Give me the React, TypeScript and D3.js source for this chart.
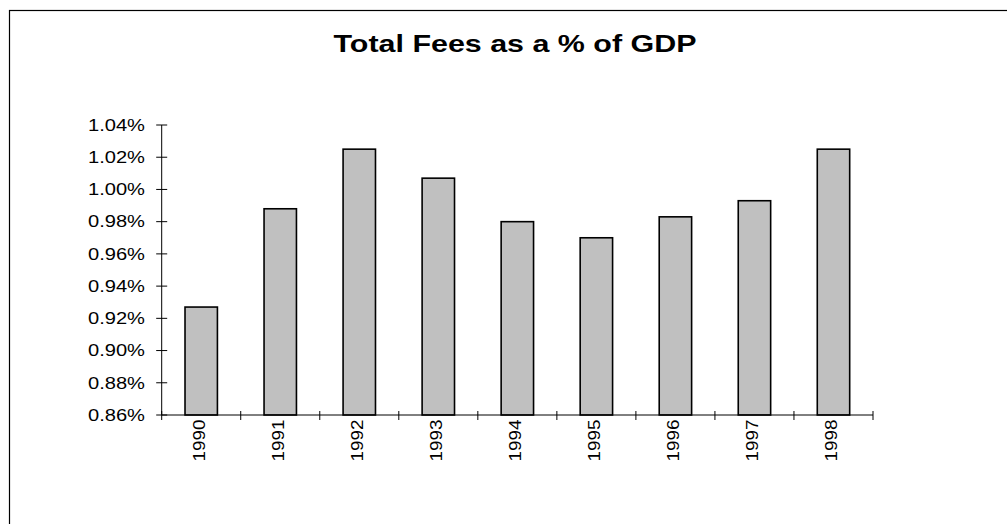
import React from "react";
import * as d3 from "d3";

const years = ["1990", "1991", "1992", "1993", "1994", "1995", "1996", "1997", "1998"];
const feesPct = [0.927, 0.988, 1.025, 1.007, 0.980, 0.970, 0.983, 0.993, 1.025];
const yTicks = [0.86, 0.88, 0.9, 0.92, 0.94, 0.96, 0.98, 1.0, 1.02, 1.04];
const title = "Total Fees as a % of GDP";

const W = 1007;
const H = 524;
const plotLeft = 161.7;
const plotRight = 873;
const plotTop = 125;
const plotBottom = 415;
const font = "'Liberation Sans', Arial, Helvetica, sans-serif";

export default function App() {
  const x = d3.scaleBand<string>().domain(years).range([plotLeft, plotRight]).paddingInner(0.59).paddingOuter(0.295);
  const band = d3.scaleBand<string>().domain(years).range([plotLeft, plotRight]).padding(0);
  const y = d3.scaleLinear().domain([0.86, 1.04]).range([plotBottom, plotTop]);
  const fmt = (v: number) => v.toFixed(2) + "%";
  const boundaries = years.map((yr) => band(yr) as number).concat([plotRight]);

  return (
    <svg width={W} height={H} style={{ position: "absolute", left: 0, top: 0, background: "#fff" }}>
      <rect x={9.5} y={10.5} width={1200} height={800} fill="#fff" stroke="#000" strokeWidth={1.2} />
      <text
        x={515}
        y={52}
        textAnchor="middle"
        fontFamily={font}
        fontWeight="bold"
        fontSize={24}
        textLength={363}
        lengthAdjust="spacingAndGlyphs"
      >
        {title}
      </text>

      {years.map((yr, i) => (
        <rect
          key={yr}
          x={x(yr)}
          y={y(feesPct[i])}
          width={x.bandwidth()}
          height={plotBottom - y(feesPct[i])}
          fill="#c0c0c0"
          stroke="#000"
          strokeWidth={1.6}
        />
      ))}

      {/* Y axis */}
      <line x1={plotLeft} x2={plotLeft} y1={plotTop} y2={plotBottom} stroke="#000" strokeWidth={1} />
      {yTicks.map((t) => (
        <g key={t}>
          <line x1={plotLeft - 5.5} x2={plotLeft + 5.5} y1={y(t)} y2={y(t)} stroke="#000" strokeWidth={1} />
          <text
            x={145}
            y={y(t)}
            dy="0.36em"
            textAnchor="end"
            fontFamily={font}
            fontSize={16}
            textLength={57}
            lengthAdjust="spacingAndGlyphs"
          >
            {fmt(t)}
          </text>
        </g>
      ))}

      {/* X axis */}
      <line x1={plotLeft} x2={plotRight} y1={plotBottom} y2={plotBottom} stroke="#000" strokeWidth={1} />
      {boundaries.map((b, i) => (
        <line key={i} x1={b} x2={b} y1={plotBottom - 4} y2={plotBottom + 5} stroke="#000" strokeWidth={1} />
      ))}
      {years.map((yr) => {
        const cx = (band(yr) as number) + band.bandwidth() / 2;
        return (
          <text
            key={yr}
            transform={`translate(${cx + 3.5},${plotBottom + 4.5}) rotate(-90)`}
            textAnchor="end"
            fontFamily={font}
            fontSize={16}
            textLength={42}
            lengthAdjust="spacingAndGlyphs"
          >
            {yr}
          </text>
        );
      })}
    </svg>
  );
}
